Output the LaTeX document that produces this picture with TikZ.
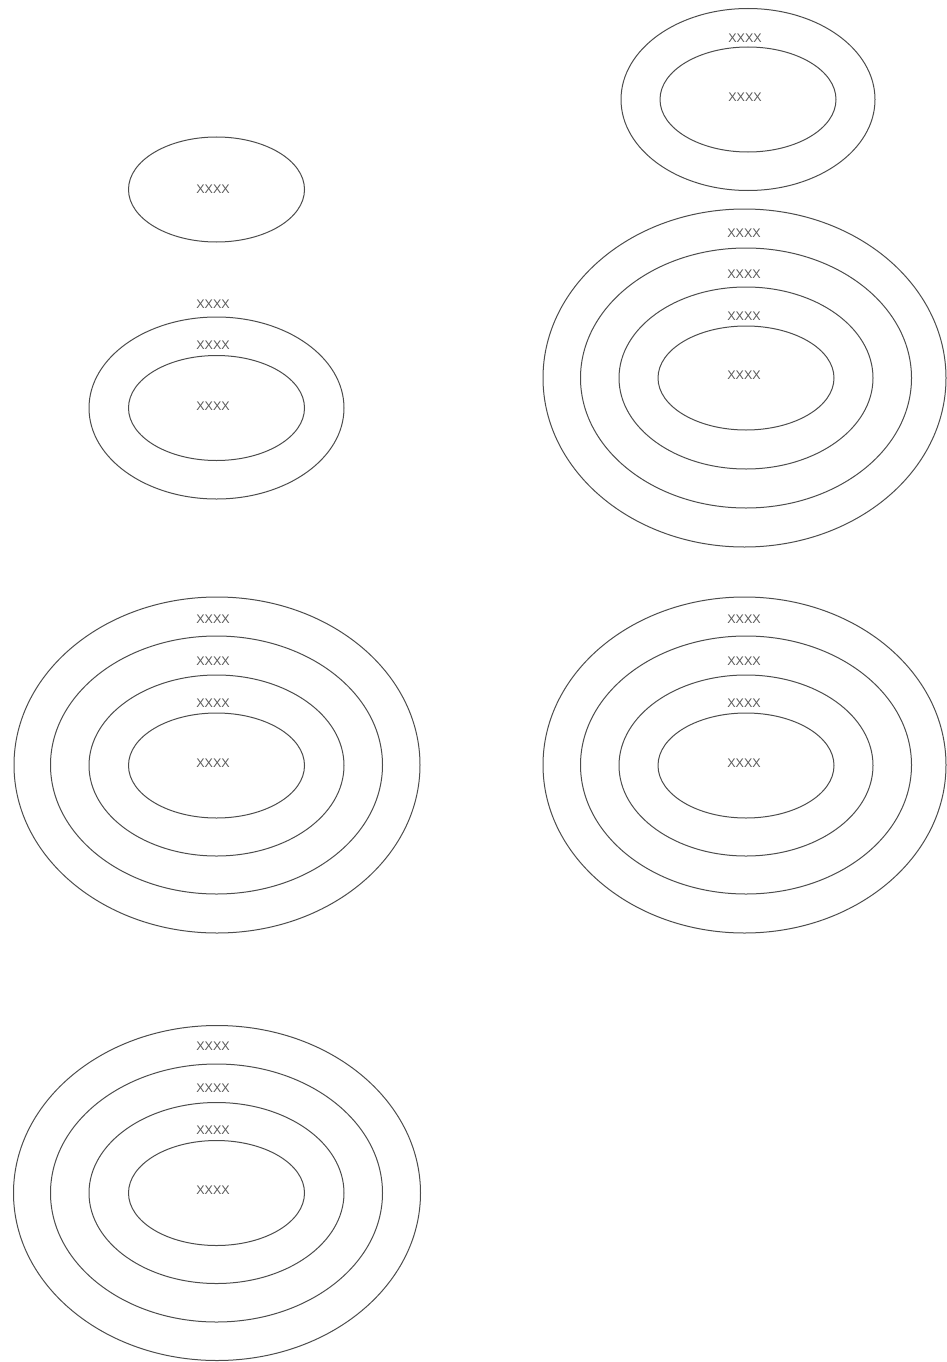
\documentclass[tikz,border=0pt]{standalone}
\usepackage{fontspec}
\setmainfont{Liberation Sans}
\begin{document}
\begin{tikzpicture}[x=1pt,y=-1pt,
  ring/.style={draw=black!70,line width=1pt},
  lbl/.style={inner sep=0pt,text=black!65,font=\fontsize{12.5}{13}\selectfont}]
\useasboundingbox (0,0) rectangle (947,1362);
% group A: single ellipse
\draw[ring] (216.5,189.5) ellipse [x radius=88,y radius=52.5];
\node[lbl] (a1) at (213,189) {XXXX};
% group B: two rings
\draw[ring] (216.5,408) ellipse [x radius=88,y radius=52.5];
\draw[ring] (216.5,408) ellipse [x radius=127.5,y radius=91];
\node[lbl] (b1) at (213,304) {XXXX};
\node[lbl] (b2) at (213,345) {XXXX};
\node[lbl] (b3) at (213,406) {XXXX};
% group C: top right two rings
\draw[ring] (748,99.5) ellipse [x radius=88,y radius=52.5];
\draw[ring] (748,99.5) ellipse [x radius=127,y radius=91];
\node[lbl] (c1) at (745,38) {XXXX};
\node[lbl] (c2) at (745,97) {XXXX};
% group D: right, four rings
\draw[ring] (746,378) ellipse [x radius=88,y radius=52];
\draw[ring] (746,378) ellipse [x radius=127,y radius=91];
\draw[ring] (746,378) ellipse [x radius=165.5,y radius=130];
\draw[ring] (744.5,378) ellipse [x radius=201.5,y radius=169];
\node[lbl] (d1) at (744,233) {XXXX};
\node[lbl] (d2) at (744,274) {XXXX};
\node[lbl] (d3) at (744,316) {XXXX};
\node[lbl] (d4) at (744,375) {XXXX};
% group E: left middle four rings
\draw[ring] (216.5,765.5) ellipse [x radius=88,y radius=52.5];
\draw[ring] (216.5,765.5) ellipse [x radius=127.5,y radius=90.5];
\draw[ring] (216.5,765) ellipse [x radius=166,y radius=129];
\draw[ring] (217,765) ellipse [x radius=203,y radius=168];
\node[lbl] (e1) at (213,619) {XXXX};
\node[lbl] (e2) at (213,661) {XXXX};
\node[lbl] (e3) at (213,703) {XXXX};
\node[lbl] (e4) at (213,763) {XXXX};
% group F: right middle four rings
\draw[ring] (746,765.5) ellipse [x radius=88,y radius=52.5];
\draw[ring] (746,765.5) ellipse [x radius=127,y radius=90.5];
\draw[ring] (746,765) ellipse [x radius=165.5,y radius=129];
\draw[ring] (744.5,765) ellipse [x radius=201.5,y radius=168];
\node[lbl] (f1) at (744,619) {XXXX};
\node[lbl] (f2) at (744,661) {XXXX};
\node[lbl] (f3) at (744,703) {XXXX};
\node[lbl] (f4) at (744,763) {XXXX};
% group G: bottom left four rings
\draw[ring] (216.5,1193) ellipse [x radius=88,y radius=52.5];
\draw[ring] (216.5,1193) ellipse [x radius=127.5,y radius=90.5];
\draw[ring] (216.5,1193) ellipse [x radius=166,y radius=129];
\draw[ring] (217,1193) ellipse [x radius=203.5,y radius=167.5];
\node[lbl] (g1) at (213,1046) {XXXX};
\node[lbl] (g2) at (213,1088) {XXXX};
\node[lbl] (g3) at (213,1130) {XXXX};
\node[lbl] (g4) at (213,1190) {XXXX};
\end{tikzpicture}
\end{document}
